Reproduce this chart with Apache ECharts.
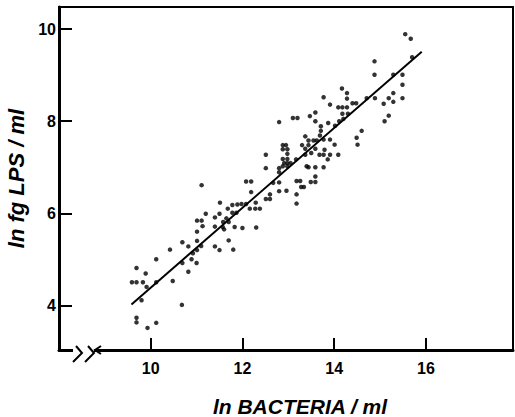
<!DOCTYPE html>
<html><head><meta charset="utf-8">
<script src="https://cdn.jsdelivr.net/npm/echarts@6/dist/echarts.min.js"></script>
<style>html,body{margin:0;padding:0;background:#fff}#c{width:515px;height:417px}</style>
</head><body><div id="c"></div>
<script>
// ln bacteria / ml (x) and ln fg LPS / ml (y)
const bacteriaLn = [
9.59,9.69,9.69,9.83,9.89,9.91,9.80,9.69,9.69,9.93,10.12,10.12,10.12,
10.42,10.48,10.68,10.69,10.69,10.82,10.82,
10.89,10.92,11.00,11.01,11.01,11.01,11.01,11.10,11.11,11.13,11.11,11.20,
11.40,11.40,11.40,11.50,11.50,11.51,11.57,11.58,11.60,11.65,11.68,11.70,11.70,11.78,11.78,11.80,11.83,11.87,11.89,11.98,12.00,12.08,
12.08,12.19,12.16,12.19,12.29,12.28,12.30,12.38,12.51,12.51,12.51,12.60,12.60,12.67,
12.80,12.80,12.80,12.80,12.80,12.88,12.88,12.88,12.88,12.91,12.95,12.98,12.98,12.98,12.98,12.98,12.96,13.05,13.10,13.17,13.20,
13.18,13.18,13.18,13.26,13.28,13.30,13.34,13.37,13.37,13.37,13.40,13.44,13.44,13.47,13.49,13.50,13.55,13.59,13.59,13.59,13.59,13.59,13.59,13.62,13.68,13.71,13.71,13.69,13.44,
13.77,13.77,13.77,13.77,13.79,13.86,13.87,13.91,13.91,13.91,14.01,14.02,14.09,14.11,14.17,14.09,14.18,14.18,14.20,14.28,14.28,14.28,14.30,
14.40,14.48,14.49,14.51,14.60,14.71,14.88,14.88,14.89,
15.08,15.10,15.19,15.19,15.29,15.29,15.29,15.49,15.49,15.49,15.55,15.67,15.70
];
const lpsLn = [
4.50,4.50,4.81,4.50,4.69,4.40,4.11,3.73,3.63,3.51,3.62,4.50,5.00,
5.21,4.53,4.01,5.37,4.92,5.28,4.73,
5.00,5.13,4.92,5.20,5.40,5.60,5.84,5.29,5.84,5.72,6.61,5.99,
5.71,5.91,5.28,5.20,5.99,6.23,5.70,5.81,5.65,5.89,6.10,5.81,5.41,6.01,6.18,5.21,5.70,6.01,6.19,6.20,5.68,6.20,
6.69,6.69,6.10,6.46,6.23,6.10,5.69,6.10,7.27,6.98,6.31,6.31,6.41,6.66,
7.98,6.98,6.89,6.67,6.48,7.48,7.39,7.18,7.02,7.09,7.48,7.39,7.29,7.18,7.09,7.02,6.49,7.09,8.07,7.17,8.07,
6.70,6.41,6.21,6.70,6.57,7.48,6.57,7.67,7.40,7.27,7.02,7.48,7.00,8.11,6.68,7.31,7.58,8.19,8.00,6.80,6.68,7.00,7.40,7.58,7.27,7.89,7.79,7.69,7.58,
8.52,7.60,7.27,7.00,7.38,7.17,7.96,8.36,7.60,7.27,7.49,7.90,7.27,8.00,8.71,8.30,8.30,8.16,8.05,8.61,8.30,8.49,8.16,
8.39,8.39,7.64,7.49,7.79,8.50,9.30,9.01,8.50,
8.38,8.00,8.12,8.50,9.01,8.61,8.42,9.01,8.79,8.50,9.89,9.79,9.39
];
// regression line end points
const fitX = [9.58, 15.91];
const fitY = [4.02, 9.51];
const xTicks = [10, 12, 14, 16];
const yTicks = [4, 6, 8, 10];

const points = bacteriaLn.map((x, i) => [x, lpsLn[i]]);
const fitLine = fitX.map((x, i) => [x, fitY[i]]);

const chart = echarts.init(document.getElementById('c'), null, {renderer: 'svg'});
const tickFont = {fontFamily: 'Liberation Sans', fontSize: 16, fontWeight: 'bold', color: '#000'};
const nameFont = {fontFamily: 'Liberation Sans', fontStyle: 'italic', fontWeight: 'bold', fontSize: 21, color: '#000'};
chart.setOption({
  animation: false,
  backgroundColor: '#fff',
  grid: {left: 59, right: 2, top: 7, bottom: 67, show: true, borderColor: '#000', borderWidth: 2,
         containLabel: false, outerBoundsMode: 'none'},
  xAxis: {
    type: 'value', min: 8, max: 17.9,
    name: 'ln BACTERIA / ml', nameLocation: 'middle', nameGap: 46,
    nameTextStyle: {...nameFont, padding: [0, 0, 0, 28]},
    axisLine: {show: true, onZero: false, lineStyle: {color: '#000', width: 3}},
    axisTick: {show: true, inside: true, length: 12, customValues: xTicks, lineStyle: {color: '#000', width: 2}},
    axisLabel: {customValues: xTicks, margin: 10, ...tickFont},
    splitLine: {show: false}
  },
  yAxis: {
    type: 'value', min: 3.03, max: 10.48,
    name: 'ln fg LPS / ml', nameLocation: 'middle', nameGap: 31, nameTextStyle: {...nameFont, fontSize: 22},
    axisLine: {show: true, onZero: false, lineStyle: {color: '#000', width: 3}},
    axisTick: {show: true, inside: true, length: 13, customValues: yTicks, lineStyle: {color: '#000', width: 2}},
    axisLabel: {customValues: yTicks, margin: 3, ...tickFont},
    splitLine: {show: false}
  },
  series: [
    {type: 'scatter', data: points, symbol: 'circle', symbolSize: 4.5, itemStyle: {color: '#000'}, z: 3},
    {type: 'line', data: fitLine, showSymbol: false, symbol: 'none', lineStyle: {color: '#000', width: 2}, z: 2}
  ],
  graphic: [
    {type: 'rect', shape: {x: 73, y: 345, width: 21, height: 10}, style: {fill: '#fff'}, z: 100},
    {type: 'polyline', shape: {points: [[76, 346], [82, 353], [73, 362]]}, style: {stroke: '#000', lineWidth: 2, fill: null}, z: 101},
    {type: 'polyline', shape: {points: [[88, 346], [94, 353], [85, 362]]}, style: {stroke: '#000', lineWidth: 2, fill: null}, z: 101},
    {type: 'polyline', shape: {points: [[101, 346], [95, 350], [101, 354]]}, style: {stroke: '#000', lineWidth: 2, fill: null}, z: 101}
  ]
});
</script></body></html>
